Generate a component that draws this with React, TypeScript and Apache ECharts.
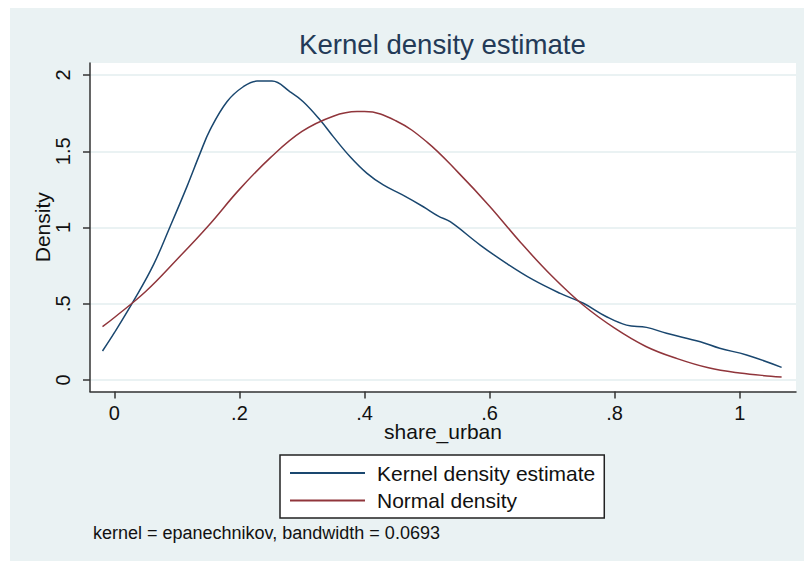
import React, { useEffect, useRef } from "react";
import * as echarts from "echarts";

// Kernel density estimate
const kdeX = [-0.019, 0.0, 0.033, 0.063, 0.089, 0.116, 0.137, 0.153, 0.18, 0.206, 0.228, 0.252, 0.281, 0.302, 0.329, 0.35, 0.377, 0.404, 0.43, 0.46, 0.494, 0.518, 0.537, 0.585, 0.627, 0.67, 0.713, 0.75, 0.787, 0.819, 0.851, 0.883, 0.937, 0.968, 1.011, 1.067];
const kdeY = [0.19, 0.31, 0.535, 0.76, 1.005, 1.268, 1.486, 1.64, 1.825, 1.923, 1.96, 1.96, 1.89, 1.825, 1.705, 1.596, 1.464, 1.355, 1.279, 1.215, 1.136, 1.075, 1.038, 0.885, 0.765, 0.656, 0.568, 0.503, 0.415, 0.36, 0.345, 0.306, 0.251, 0.208, 0.164, 0.083];

// Normal density
const normalX = [-0.019, 0.0, 0.05, 0.1, 0.15, 0.2, 0.25, 0.3, 0.35, 0.388, 0.4, 0.45, 0.5, 0.55, 0.6, 0.65, 0.7, 0.75, 0.8, 0.85, 0.9, 0.95, 1.0, 1.05, 1.067];
const normalY = [0.35, 0.41, 0.58, 0.79, 1.01, 1.25, 1.46, 1.63, 1.73, 1.76, 1.76, 1.7, 1.56, 1.36, 1.14, 0.9, 0.68, 0.49, 0.34, 0.22, 0.14, 0.08, 0.046, 0.025, 0.02];

const xTickValues = [0, 0.2, 0.4, 0.6, 0.8, 1];
const xTickLabels = ["0", ".2", ".4", ".6", ".8", "1"];
const yTickValues = [0, 0.5, 1, 1.5, 2];
const yTickLabels = ["0", ".5", "1", "1.5", "2"];

const seriesNames = ["Kernel density estimate", "Normal density"];
const titleText = "Kernel density estimate";
const xTitle = "share_urban";
const yTitle = "Density";
const noteText = "kernel = epanechnikov, bandwidth = 0.0693";

const FONT = "'Liberation Sans', Arial, Helvetica, sans-serif";

function lookup(values: number[], labels: string[], v: number): string {
  for (let i = 0; i < values.length; i++) {
    if (Math.abs(values[i] - v) < 1e-9) return labels[i];
  }
  return "";
}

export default function App() {
  const ref = useRef<HTMLDivElement>(null);

  useEffect(() => {
    if (!ref.current) return;
    const chart = echarts.init(ref.current, undefined, { renderer: "svg" });
    chart.setOption({
      animation: false,
      backgroundColor: "#ffffff",
      textStyle: { fontFamily: FONT },
      title: {
        text: titleText,
        left: 299,
        top: 30,
        padding: 0,
        textStyle: { fontSize: 27.6, fontWeight: "normal", color: "#233a57", fontFamily: FONT },
      },
      graphic: [
        {
          type: "rect",
          z: -100,
          silent: true,
          shape: { x: 10, y: 8, width: 794, height: 553 },
          style: { fill: "#eaf2f3" },
        },
        {
          type: "text",
          left: 93,
          top: 524,
          silent: true,
          style: { text: noteText, fontSize: 18, fill: "#111111", font: `18px ${FONT}` },
        },
      ],
      grid: {
        left: 90,
        right: 8,
        top: 63,
        bottom: 169.5,
        show: true,
        backgroundColor: "#ffffff",
        borderWidth: 0,
      },
      legend: {
        orient: "vertical",
        left: 280,
        top: 455,
        backgroundColor: "#ffffff",
        borderColor: "#222222",
        borderWidth: 1.5,
        borderRadius: 0,
        padding: [7.5, 9, 7, 10],
        itemWidth: 75,
        itemHeight: 2,
        itemGap: 6.5,
        icon: "rect",
        textStyle: { fontSize: 21, color: "#111111", fontFamily: FONT, padding: [0, 0, 0, 7] },
        data: seriesNames,
      },
      xAxis: {
        type: "value",
        min: -0.039,
        max: 1.09,
        name: xTitle,
        nameLocation: "middle",
        nameGap: 32,
        nameMoveOverlap: false,
        nameTextStyle: { fontSize: 21, lineHeight: 16, color: "#111111", fontFamily: FONT },
        axisLine: { show: true, onZero: false, lineStyle: { color: "#333333", width: 1.5 } },
        axisTick: { show: true, length: 7, customValues: xTickValues, lineStyle: { color: "#333333", width: 1.5 } },
        axisLabel: {
          customValues: xTickValues,
          formatter: (v: number) => lookup(xTickValues, xTickLabels, v),
          fontSize: 20,
          lineHeight: 16,
          color: "#111111",
          margin: 13,
          fontFamily: FONT,
        },
        splitLine: { show: false },
      },
      yAxis: {
        type: "value",
        min: -0.0754,
        max: 2.0787,
        name: yTitle,
        nameLocation: "middle",
        nameGap: 37,
        nameMoveOverlap: false,
        nameRotate: 90,
        nameTextStyle: { fontSize: 21, color: "#111111", fontFamily: FONT },
        axisLine: { show: true, onZero: false, lineStyle: { color: "#333333", width: 1.5 } },
        axisTick: { show: true, length: 7, customValues: yTickValues, lineStyle: { color: "#333333", width: 1.5 } },
        axisLabel: {
          customValues: yTickValues,
          formatter: (v: number) => lookup(yTickValues, yTickLabels, v),
          fontSize: 20,
          color: "#111111",
          margin: 17,
          rotate: 90,
          fontFamily: FONT,
        },
        splitLine: { show: true, lineStyle: { color: "#eaf2f3", width: 2 } },
      },
      series: [
        {
          name: seriesNames[0],
          type: "line",
          data: kdeX.map((x, i) => [x, kdeY[i]]),
          smooth: 0.4,
          showSymbol: false,
          symbol: "none",
          color: "#1a476f",
          lineStyle: { color: "#1a476f", width: 1.5 },
        },
        {
          name: seriesNames[1],
          type: "line",
          data: normalX.map((x, i) => [x, normalY[i]]),
          smooth: 0.4,
          showSymbol: false,
          symbol: "none",
          color: "#90353b",
          lineStyle: { color: "#90353b", width: 1.5 },
        },
      ],
    });
    return () => chart.dispose();
  }, []);

  return (
    <div
      ref={ref}
      style={{ position: "fixed", left: 0, top: 0, width: 804, height: 561 }}
    />
  );
}
